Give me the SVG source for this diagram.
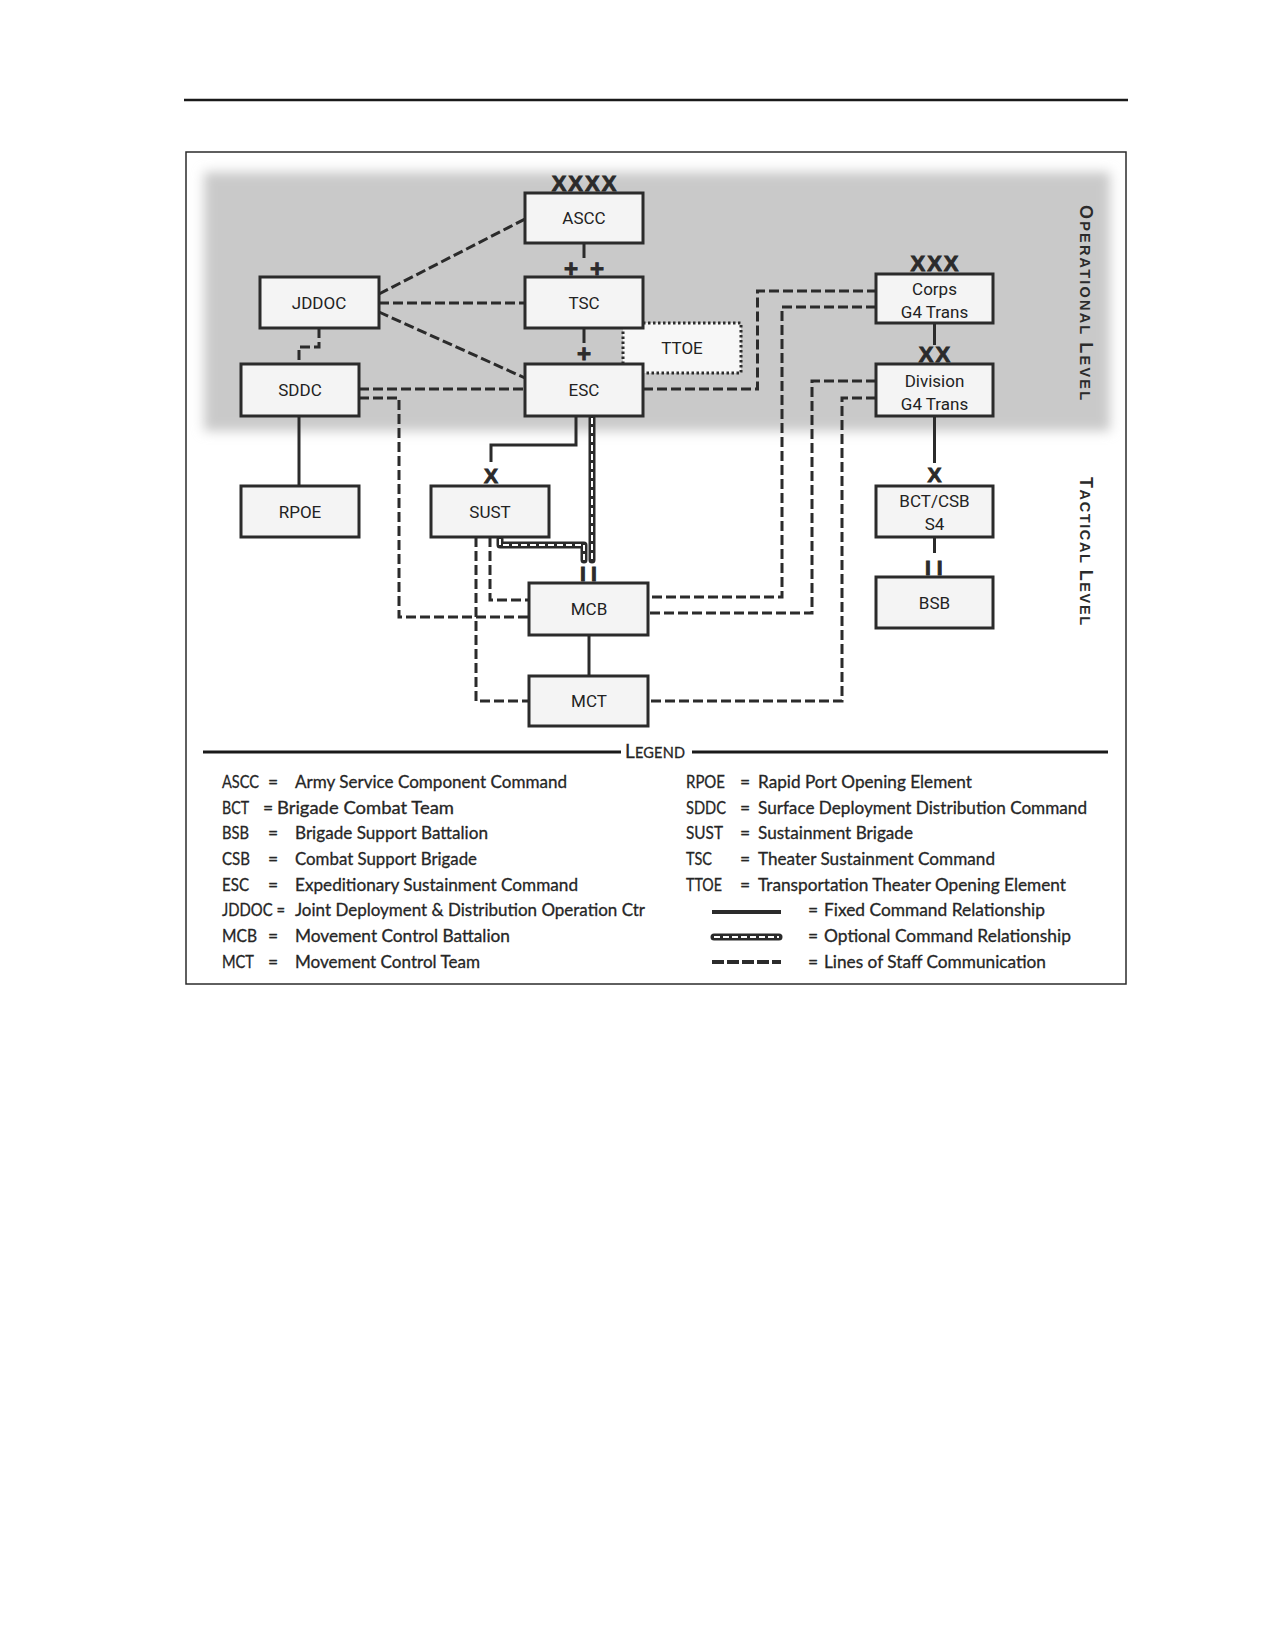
<svg xmlns="http://www.w3.org/2000/svg" width="1275" height="1650" viewBox="0 0 1275 1650">
<defs>
<filter id="soft" x="-5%" y="-10%" width="110%" height="120%"><feGaussianBlur stdDeviation="6"/></filter>
</defs>
<style>
.box{fill:#f4f4f4;stroke:#2b2b2b;stroke-width:3}
.lbl{font-family:Roboto,"Liberation Sans",sans-serif;font-size:17px;fill:#222;text-anchor:middle}
.ech{font-family:"Liberation Sans",Arial,sans-serif;font-weight:bold;fill:#2b2b2b;stroke:#2b2b2b;stroke-width:0.9}
.solid{fill:none;stroke:#2b2b2b;stroke-width:3}
.dash{fill:none;stroke:#2b2b2b;stroke-width:3;stroke-dasharray:10 4}
.optO{fill:none;stroke:#2b2b2b;stroke-width:7;stroke-linecap:round;stroke-linejoin:round}
.optI{fill:none;stroke:#ffffff;stroke-width:2;stroke-dasharray:6 3}
.lvl{font-family:"Liberation Sans",Arial,sans-serif;font-weight:bold;fill:#2b2b2b}
.leg{font-family:Lato,"Open Sans",sans-serif;font-size:17.5px;fill:#262626;stroke:#262626;stroke-width:0.3}
</style>
<rect width="1275" height="1650" fill="#ffffff"/>
<line x1="184" y1="100" x2="1128" y2="100" stroke="#1a1a1a" stroke-width="2.5"/>
<rect x="186" y="152" width="940" height="832" fill="#ffffff" stroke="#2b2b2b" stroke-width="1.5"/>
<rect id="operational-band" x="204" y="172" width="906" height="259" fill="#c9c9c9" filter="url(#soft)"/>

<g id="connectors">
<path class="solid" d="M584 243V258"/>
<path class="solid" d="M584 328V343"/>
<path class="solid" d="M934.5 323V345"/>
<path class="solid" d="M576 416V445H491V462"/>
<path class="solid" d="M299 416V486"/>
<path class="solid" d="M589 635V676"/>
<path class="solid" d="M934.5 416V463"/>
<path class="solid" d="M934.5 537V553"/>
<path class="dash" d="M379 294L525 219"/>
<path class="dash" d="M379 303H525"/>
<path class="dash" d="M379 312L525 378"/>
<path class="dash" d="M319 328V347H299V364"/>
<path class="dash" d="M359 389H525"/>
<path class="dash" d="M359 398H399V617H529"/>
<path class="dash" d="M643 389H757.5V291H876"/>
<path class="dash" d="M876 307H782V597H648"/>
<path class="dash" d="M876 381H812V613H648"/>
<path class="dash" d="M876 398H842V701H648"/>
<path class="dash" d="M490 537V600H529"/>
<path class="dash" d="M476 537V701H529"/>
<path class="optO" d="M592 418V560"/>
<path class="optI" d="M592 418V560"/>
<path class="optO" d="M500 539V545H584V560"/>
<path class="optI" d="M500 539V545H584V560"/>
</g>

<g id="node-ttoe">
<rect x="623" y="323" width="118" height="50" fill="#f7f7f7" stroke="#2b2b2b" stroke-width="3" stroke-dasharray="2.5 2.5"/>
<text class="lbl" x="682" y="354">TTOE</text>
</g>
<g id="node-ascc"><rect class="box" x="525" y="193" width="118" height="50"/><text class="lbl" x="584" y="224">ASCC</text>
<text class="ech" x="585" y="191" font-size="22" letter-spacing="2" text-anchor="middle">XXXX</text></g>
<g id="node-tsc"><rect class="box" x="525" y="277" width="118" height="51"/><text class="lbl" x="584" y="309">TSC</text>
<text class="ech" x="571" y="277" font-size="24" text-anchor="middle">+</text><text class="ech" x="597" y="277" font-size="24" text-anchor="middle">+</text></g>
<g id="node-jddoc"><rect class="box" x="260" y="277" width="119" height="51"/><text class="lbl" x="319" y="309">JDDOC</text></g>
<g id="node-sddc"><rect class="box" x="241" y="364" width="118" height="52"/><text class="lbl" x="300" y="396">SDDC</text></g>
<g id="node-esc"><rect class="box" x="525" y="364" width="118" height="52"/><text class="lbl" x="584" y="396">ESC</text>
<text class="ech" x="584" y="362" font-size="24" text-anchor="middle">+</text></g>
<g id="node-corps"><rect class="box" x="876" y="274" width="117" height="49"/><text class="lbl" x="934.5" y="295">Corps</text><text class="lbl" x="934.5" y="318">G4 Trans</text>
<text class="ech" x="935.5" y="271" font-size="22" letter-spacing="2" text-anchor="middle">XXX</text></g>
<g id="node-division"><rect class="box" x="876" y="364" width="117" height="52"/><text class="lbl" x="934.5" y="387">Division</text><text class="lbl" x="934.5" y="410">G4 Trans</text>
<text class="ech" x="935.5" y="362" font-size="22" letter-spacing="2" text-anchor="middle">XX</text></g>
<g id="node-rpoe"><rect class="box" x="241" y="486" width="118" height="51"/><text class="lbl" x="300" y="518">RPOE</text></g>
<g id="node-sust"><rect class="box" x="431" y="486" width="118" height="51"/><text class="lbl" x="490" y="518">SUST</text>
<text class="ech" x="491" y="483" font-size="21" text-anchor="middle">X</text></g>
<g id="node-bctcsb"><rect class="box" x="876" y="486" width="117" height="51"/><text class="lbl" x="934.5" y="507">BCT/CSB</text><text class="lbl" x="934.5" y="530">S4</text>
<text class="ech" x="934.5" y="482" font-size="21" text-anchor="middle">X</text></g>
<g id="node-bsb"><rect class="box" x="876" y="577" width="117" height="51"/><text class="lbl" x="934.5" y="609">BSB</text>
<text class="ech" x="925" y="575" font-size="21" letter-spacing="6">II</text></g>
<g id="node-mcb"><rect class="box" x="529" y="583" width="119" height="52"/><text class="lbl" x="589" y="615">MCB</text>
<text class="ech" x="580" y="581" font-size="21" letter-spacing="5.2">II</text></g>
<g id="node-mct"><rect class="box" x="529" y="676" width="119" height="50"/><text class="lbl" x="589" y="707">MCT</text></g>

<g id="level-labels">
<text class="lvl" transform="translate(1080,205) rotate(90)" textLength="195" lengthAdjust="spacing"><tspan font-size="18">O</tspan><tspan font-size="14.5">PERATIONAL </tspan><tspan font-size="18"> L</tspan><tspan font-size="14.5">EVEL</tspan></text>
<text class="lvl" transform="translate(1080,477) rotate(90)" textLength="148" lengthAdjust="spacing"><tspan font-size="18">T</tspan><tspan font-size="14.5">ACTICAL </tspan><tspan font-size="18"> L</tspan><tspan font-size="14.5">EVEL</tspan></text>
</g>

<g id="legend">
<line x1="203" y1="752" x2="621" y2="752" stroke="#1a1a1a" stroke-width="3"/>
<line x1="692" y1="752" x2="1108" y2="752" stroke="#1a1a1a" stroke-width="3"/>
<text class="leg" x="625" y="758" textLength="60" lengthAdjust="spacing"><tspan font-size="19">L</tspan><tspan font-size="14.5">EGEND</tspan></text>

<text class="leg" x="222" y="788" textLength="37" lengthAdjust="spacingAndGlyphs">ASCC</text><text class="leg" x="268" y="788">=</text><text class="leg" x="295" y="788" textLength="272" lengthAdjust="spacingAndGlyphs">Army Service Component Command</text>
<text class="leg" x="222" y="814" textLength="27" lengthAdjust="spacingAndGlyphs">BCT</text><text class="leg" x="263" y="814">=</text><text class="leg" x="277" y="814" textLength="177" lengthAdjust="spacingAndGlyphs">Brigade Combat Team</text>
<text class="leg" x="222" y="839" textLength="27" lengthAdjust="spacingAndGlyphs">BSB</text><text class="leg" x="268" y="839">=</text><text class="leg" x="295" y="839" textLength="193" lengthAdjust="spacingAndGlyphs">Brigade Support Battalion</text>
<text class="leg" x="222" y="865" textLength="28" lengthAdjust="spacingAndGlyphs">CSB</text><text class="leg" x="268" y="865">=</text><text class="leg" x="295" y="865" textLength="182" lengthAdjust="spacingAndGlyphs">Combat Support Brigade</text>
<text class="leg" x="222" y="891" textLength="27" lengthAdjust="spacingAndGlyphs">ESC</text><text class="leg" x="268" y="891">=</text><text class="leg" x="295" y="891" textLength="283" lengthAdjust="spacingAndGlyphs">Expeditionary Sustainment Command</text>
<text class="leg" x="222" y="916" textLength="63" lengthAdjust="spacingAndGlyphs">JDDOC =</text><text class="leg" x="295" y="916" textLength="350" lengthAdjust="spacingAndGlyphs">Joint Deployment &amp; Distribution Operation Ctr</text>
<text class="leg" x="222" y="942" textLength="35" lengthAdjust="spacingAndGlyphs">MCB</text><text class="leg" x="268" y="942">=</text><text class="leg" x="295" y="942" textLength="215" lengthAdjust="spacingAndGlyphs">Movement Control Battalion</text>
<text class="leg" x="222" y="968" textLength="32" lengthAdjust="spacingAndGlyphs">MCT</text><text class="leg" x="268" y="968">=</text><text class="leg" x="295" y="968" textLength="185" lengthAdjust="spacingAndGlyphs">Movement Control Team</text>

<text class="leg" x="686" y="788" textLength="39" lengthAdjust="spacingAndGlyphs">RPOE</text><text class="leg" x="740" y="788">=</text><text class="leg" x="758" y="788" textLength="214" lengthAdjust="spacingAndGlyphs">Rapid Port Opening Element</text>
<text class="leg" x="686" y="814" textLength="40" lengthAdjust="spacingAndGlyphs">SDDC</text><text class="leg" x="740" y="814">=</text><text class="leg" x="758" y="814" textLength="329" lengthAdjust="spacingAndGlyphs">Surface Deployment Distribution Command</text>
<text class="leg" x="686" y="839" textLength="37" lengthAdjust="spacingAndGlyphs">SUST</text><text class="leg" x="740" y="839">=</text><text class="leg" x="758" y="839" textLength="155" lengthAdjust="spacingAndGlyphs">Sustainment Brigade</text>
<text class="leg" x="686" y="865" textLength="26" lengthAdjust="spacingAndGlyphs">TSC</text><text class="leg" x="740" y="865">=</text><text class="leg" x="758" y="865" textLength="237" lengthAdjust="spacingAndGlyphs">Theater Sustainment Command</text>
<text class="leg" x="686" y="891" textLength="36" lengthAdjust="spacingAndGlyphs">TTOE</text><text class="leg" x="740" y="891">=</text><text class="leg" x="758" y="891" textLength="308" lengthAdjust="spacingAndGlyphs">Transportation Theater Opening Element</text>
<line x1="712" y1="912" x2="781" y2="912" stroke="#2b2b2b" stroke-width="4"/>
<text class="leg" x="808" y="916">=</text><text class="leg" x="824" y="916" textLength="221" lengthAdjust="spacingAndGlyphs">Fixed Command Relationship</text>
<path class="optO" d="M714 937H779"/><path d="M714 937H779" fill="none" stroke="#fff" stroke-width="2" stroke-dasharray="6 3"/>
<text class="leg" x="808" y="942">=</text><text class="leg" x="824" y="942" textLength="247" lengthAdjust="spacingAndGlyphs">Optional Command Relationship</text>
<line x1="712" y1="962" x2="781" y2="962" stroke="#2b2b2b" stroke-width="4" stroke-dasharray="12 3"/>
<text class="leg" x="808" y="968">=</text><text class="leg" x="824" y="968" textLength="222" lengthAdjust="spacingAndGlyphs">Lines of Staff Communication</text>
</g>
</svg>
